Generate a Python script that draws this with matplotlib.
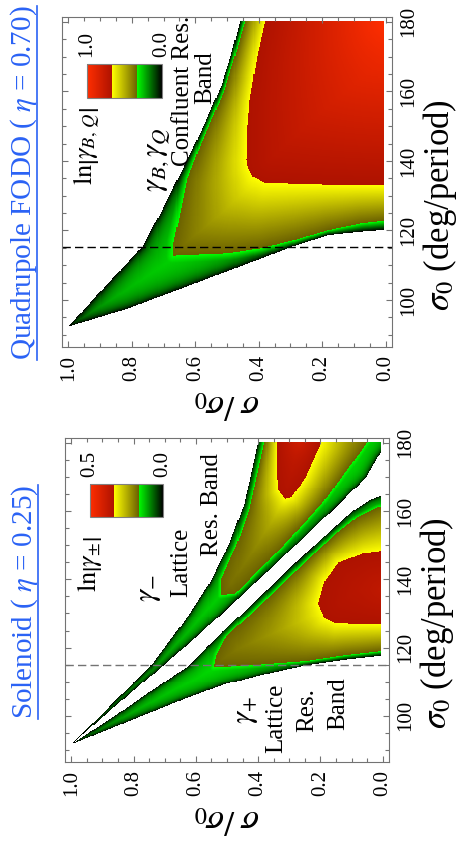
import numpy as np
import matplotlib
matplotlib.use("Agg")
import matplotlib.pyplot as plt
from matplotlib.colors import LinearSegmentedColormap
from matplotlib.lines import Line2D
from matplotlib.path import Path
from matplotlib.ticker import MultipleLocator

plt.rcParams['font.family'] = ['Liberation Serif', 'DejaVu Serif']
plt.rcParams['mathtext.fontset'] = 'stix'

# ---- data: band contours as (sigma0 [deg], sigma/sigma0) ----
# level 0 = band edge, 1/3 = green|yellow, 2/3 = yellow|red (fractions of the colour bar)
# "hi" = side with the larger sigma/sigma0, "lo" = side towards sigma/sigma0 = 0

# Quadrupole FODO, eta = 0.70  (colour bar 0.0 .. 1.0)
fodo_max = 1.0
fodo_edge_hi = [(92.3, 1.0), (103, 0.893), (115.3, 0.767), (125, 0.71), (135, 0.655), (143, 0.611),
                (152, 0.565), (162, 0.517), (170, 0.488), (180, 0.459)]
fodo_edge_lo = [(92.3, 1.0), (97.6, 0.809), (104.8, 0.60), (112.0, 0.39), (115.3, 0.296), (118.7, 0.18),
                (119.7, 0.075), (120.1, 0.018), (120.5, -0.03), (122, -0.15), (124, -0.3)]
fodo_yel_hi = [(112.7, 0.67), (117, 0.668), (125, 0.648), (135, 0.625), (145, 0.582), (160, 0.51),
               (170, 0.475), (180, 0.443)]
fodo_yel_lo = [(112.7, 0.67), (113.0, 0.60), (113.4, 0.495), (114.9, 0.39), (117.3, 0.285), (120.1, 0.18),
               (122.1, 0.075), (122.8, 0.007), (124, -0.1)]
fodo_red_hi = [(133.0, -0.01), (133.3, 0.2), (133.8, 0.38), (135.5, 0.418), (138, 0.433), (140.3, 0.438),
               (150, 0.435), (157.6, 0.428), (170, 0.405), (180, 0.38)]
fodo_peak = (180, 0.0, 1.0)   # (sigma0, sigma/sigma0, fraction)

# Solenoid, eta = 0.25  (colour bar 0.0 .. 0.5), gamma_- band
sol_max = 0.5
minus_edge_hi = [(91.8, 1.0), (100, 0.907), (114.4, 0.748), (127.0, 0.642), (138.7, 0.557), (150.4, 0.493),
                 (162.0, 0.445), (180, 0.40)]
minus_edge_lo = [(91.8, 1.0), (100, 0.895), (114.9, 0.703), (124.6, 0.579), (134.3, 0.465), (143.9, 0.35),
                 (153.5, 0.239), (163.2, 0.126), (169.9, 0.054), (175.7, 0.016), (180, -0.02)]
minus_yel_hi = [(135.3, 0.52), (140, 0.52), (150, 0.47), (160, 0.43), (170, 0.405), (180, 0.38)]
minus_yel_lo = [(135.3, 0.52), (135.8, 0.472), (149.4, 0.324), (162, 0.196), (177.6, 0.069), (180, 0.05)]
minus_red_hi = [(163.5, 0.313), (166, 0.335), (170, 0.339), (180, 0.339)]
minus_red_lo = [(163.5, 0.313), (164, 0.292), (169.8, 0.249), (179.1, 0.201), (180, 0.20)]
minus_peak = (180, 0.27, 0.8)

# Solenoid, gamma_+ band
plus_edge_hi = [(91.8, 1.0), (100, 0.86), (114.9, 0.62), (124.6, 0.515), (134.3, 0.401), (143.9, 0.29),
                (153.5, 0.178), (160, 0.095), (163.2, 0.04), (164.5, 0.0), (165, -0.02)]
plus_edge_lo = [(91.8, 1.0), (100, 0.773), (105, 0.635), (109.3, 0.505), (112, 0.39), (114.9, 0.244),
                (116.5, 0.12), (117.6, 0.01), (118.5, -0.1)]
plus_yel_hi = [(114.2, 0.545), (118, 0.535), (123.1, 0.504), (134.3, 0.372), (143.9, 0.262), (153.5, 0.15),
               (158, 0.085), (161, 0.016), (161.5, -0.01)]
plus_yel_lo = [(114.2, 0.545), (114.4, 0.50), (115, 0.40), (116.1, 0.244), (117.8, 0.12), (119, 0.0),
               (119.5, -0.05)]
plus_red_hi = [(126.8, -0.01), (127.0, 0.15), (128.5, 0.185), (132.9, 0.207), (139.5, 0.186), (144.8, 0.143),
               (147.7, 0.058), (148.4, 0.0), (148.6, -0.01)]
plus_peak = (137, 0.0, 0.74)

dash_fodo = 115.3
dash_sol = 115.0

s_ticks = [0.0, 0.2, 0.4, 0.6, 0.8, 1.0]
s_ticklabels = ['0.0', '0.2', '0.4', '0.6', '0.8', '1.0']
sig_ticks = [100, 120, 140, 160, 180]

SX, SY = 318.0, 3.475   # pixels per unit sigma/sigma0 and per degree, for distances


def seg_dist(P, curves):
    d = np.full(len(P), np.inf)
    for c in curves:
        c = np.array(c)[:, ::-1] * [SX, SY]
        for a, b in zip(c[:-1], c[1:]):
            ab = b - a
            t = np.clip(((P - a) @ ab) / (ab @ ab + 1e-12), 0, 1)
            d = np.minimum(d, np.hypot(*(P - a - t[:, None] * ab).T))
    return d


def level_path(hi, lo):
    hi = [(s, g) for g, s in hi]
    lo = [(s, g) for g, s in lo] if lo is not None else [(-1.0, hi[0][1])]
    return Path(hi + [(-1.0, hi[-1][1]), (-1.0, lo[-1][1])] + lo[::-1])


def band_field(S, G, levels, peak, green_cap):
    P = np.column_stack([S.ravel(), G.ravel()])
    Ps = P * [SX, SY]
    inside = [level_path(hi, lo).contains_points(P) for hi, lo in levels]
    dist = [seg_dist(Ps, [c for c in (hi, lo) if c is not None]) for hi, lo in levels]
    dpk = np.hypot((P[:, 0] - peak[1]) * SX, (P[:, 1] - peak[0]) * SY)
    fr = [0.0, 1 / 3, 2 / 3]
    V = np.full(len(P), np.nan)
    zone = inside[0] & ~inside[1]
    v = fr[1] * dist[0] / (dist[0] + np.minimum(dist[1], green_cap))
    V[zone] = v[zone]
    zone = inside[1] & ~inside[2]
    v = fr[1] + (fr[2] - fr[1]) * dist[1] / (dist[1] + dist[2])
    V[zone] = v[zone]
    zone = inside[2]
    v = fr[2] + (peak[2] - fr[2]) * dist[2] / (dist[2] + dpk)
    V[zone] = v[zone]
    return V.reshape(S.shape)


s_grid = np.linspace(0.006, 1.0, 300)
g_grid = np.linspace(88.0, 180.0, 320)
S, G = np.meshgrid(s_grid, g_grid)

V_fodo = band_field(S, G, [(fodo_edge_hi, fodo_edge_lo), (fodo_yel_hi, fodo_yel_lo), (fodo_red_hi, None)],
                    fodo_peak, green_cap=7.0) * fodo_max
V_minus = band_field(S, G, [(minus_edge_hi, minus_edge_lo), (minus_yel_hi, minus_yel_lo),
                            (minus_red_hi, minus_red_lo)], minus_peak, green_cap=3.5)
V_plus = band_field(S, G, [(plus_edge_hi, plus_edge_lo), (plus_yel_hi, plus_yel_lo), (plus_red_hi, None)],
                    plus_peak, green_cap=3.5)
V_sol = np.fmax(V_minus, V_plus) * sol_max

# stepped colour bar: black->green, olive->yellow, dark red->red
cdict = {
    'red': [(0, 0, 0), (1 / 3, 0.0, 0.42), (2 / 3, 1.0, 0.68), (1, 1.0, 1.0)],
    'green': [(0, 0, 0), (1 / 3, 1.0, 0.38), (2 / 3, 1.0, 0.07), (1, 0.18, 0.18)],
    'blue': [(0, 0, 0), (1, 0, 0)],
}
cmap = LinearSegmentedColormap('growth', cdict, N=512)
cmap.set_bad((1, 1, 1, 0))

fig = plt.figure(figsize=(4.66, 8.57), dpi=100)
ax_q = fig.add_axes([0.1330, 0.5951, 0.7082, 0.3851])
ax_s = fig.add_axes([0.1395, 0.1109, 0.6953, 0.3781])


def setup(ax, V, vmax, dash_y, dash_col, cb_labels, leg_label, ylab_y):
    pc = ax.pcolormesh(s_grid, g_grid, V, cmap=cmap, vmin=0, vmax=vmax, shading='nearest', rasterized=True)
    ax.axhline(dash_y, color=dash_col, lw=1.0, dashes=(6, 3))
    ax.set_xlim(1.02, -0.02)
    ax.set_ylim(86.5, 181.4)
    ax.set_xticks(s_ticks, s_ticklabels, rotation=90, ha='center', va='top', rotation_mode='default')
    ax.xaxis.set_minor_locator(MultipleLocator(0.05))
    ax.set_yticks(sig_ticks, [str(t) for t in sig_ticks])
    ax.yaxis.set_minor_locator(MultipleLocator(5))
    ax.tick_params(which='both', direction='in', top=True, bottom=True, left=True, right=True,
                   color='0.45', width=0.8)
    ax.tick_params(which='major', length=4)
    ax.tick_params(which='minor', length=3)
    ax.tick_params(axis='x', labelsize=15, pad=6)
    ax.tick_params(axis='y', labelleft=False, labelright=True, labelsize=15, pad=5)
    for tk in ax.yaxis.get_major_ticks():
        tk.label2.set_rotation(90)
        tk.label2.set_rotation_mode('default')
        tk.label2.set_verticalalignment('center')
        tk.label2.set_horizontalalignment('left')
    for sp in ax.spines.values():
        sp.set_color('0.45')
    ax.set_xlabel(r'$\sigma\ /\sigma_0$', rotation=180, fontsize=25, labelpad=4)
    ax.yaxis.set_label_position('right')
    ax.set_ylabel(r'$\sigma_0$ (deg/period)', fontsize=25, rotation=90, labelpad=2)
    ax.yaxis.label.set_y(ylab_y)

    cax = ax.inset_axes([0.076, 0.755, 0.227, 0.103])
    cb = fig.colorbar(pc, cax=cax, orientation='horizontal', ticks=[0, vmax])
    cax.invert_xaxis()
    cax.xaxis.set_ticks_position('top')
    cb.set_ticklabels(cb_labels)
    cax.tick_params(length=0, labelsize=15, labelrotation=90, pad=5)
    cb.outline.set_edgecolor('0.5')
    ax.text(0.077, 0.61, leg_label, transform=ax.transAxes, rotation=90, fontsize=19,
            ha='center', va='center')


setup(ax_q, V_fodo, fodo_max, dash_fodo, 'k', ['0.0', '1.0'], r'$\mathrm{ln}\left|\gamma_{B,\,Q}\right|$', 0.43)
setup(ax_s, V_sol, sol_max, dash_sol, '0.45', ['0.0', '0.5'], r'$\mathrm{ln}\left|\gamma_{\pm}\right|$', 0.43)

# labels inside the panels
txt = dict(rotation=90, fontsize=18, ha='center', va='center')
mtxt = dict(rotation=90, fontsize=22, ha='center', va='center')
ax_q.text(0.288, 0.567, r'$\gamma_{B,}\gamma_Q$', transform=ax_q.transAxes, **mtxt)
ax_q.text(0.367, 0.776, 'Confluent Res.', transform=ax_q.transAxes, **txt)
ax_q.text(0.433, 0.815, 'Band', transform=ax_q.transAxes, **txt)

ax_s.text(0.259, 0.537, r'$\gamma_{-}$', transform=ax_s.transAxes, **mtxt)
ax_s.text(0.358, 0.617, 'Lattice', transform=ax_s.transAxes, **txt)
ax_s.text(0.454, 0.793, 'Res. Band', transform=ax_s.transAxes, **txt)
ax_s.text(0.556, 0.160, r'$\gamma_{+}$', transform=ax_s.transAxes, **mtxt)
ax_s.text(0.651, 0.136, 'Lattice', transform=ax_s.transAxes, **txt)
ax_s.text(0.747, 0.160, 'Res.', transform=ax_s.transAxes, **txt)
ax_s.text(0.843, 0.179, 'Band', transform=ax_s.transAxes, **txt)

# blue underlined panel titles
blue = '#2a62f5'
t_q = fig.text(24 / 466, 1 - 183 / 857, r'Quadrupole FODO ( $\eta$ = 0.70)', rotation=90, fontsize=21,
               color=blue, ha='center', va='center')
t_s = fig.text(25 / 466, 1 - 602 / 857, r'Solenoid ( $\eta$ = 0.25)', rotation=90, fontsize=21,
               color=blue, ha='center', va='center')
fig.canvas.draw()
for t in (t_q, t_s):
    bb = t.get_window_extent().transformed(fig.transFigure.inverted())
    x = bb.x1 - 2.5 / 466
    fig.add_artist(Line2D([x, x], [bb.y0, bb.y1], transform=fig.transFigure, color=blue, lw=1.2))

fig.savefig('out.png', dpi=100)
